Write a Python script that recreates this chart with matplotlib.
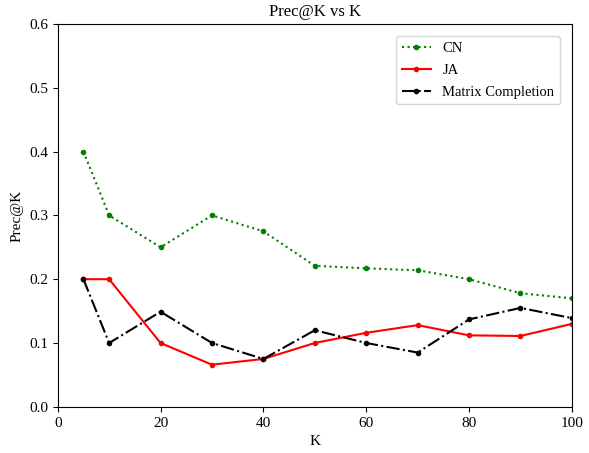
import matplotlib
matplotlib.use("Agg")
import matplotlib.pyplot as plt

plt.rcParams['font.family'] = ['Liberation Serif', 'DejaVu Serif']
plt.rcParams['font.size'] = 11

# K values and precision for each method
k = [5, 10, 20, 30, 40, 50, 60, 70, 80, 90, 100]
cn = [0.4, 0.3, 0.25, 0.3, 0.275, 0.221, 0.217, 0.214, 0.2, 0.178, 0.17]
ja = [0.2, 0.2, 0.1, 0.066, 0.075, 0.1, 0.116, 0.128, 0.112, 0.111, 0.13]
mc = [0.2, 0.1, 0.149, 0.1, 0.075, 0.12, 0.1, 0.085, 0.137, 0.155, 0.139]

fig = plt.figure(figsize=(5.89, 4.53), dpi=100)
ax = fig.add_axes([0.098, 0.102, 0.873, 0.845])

ax.plot(k, cn, color='green', linestyle=':', marker='o', markersize=3, label='CN')
ax.plot(k, ja, color='red', linestyle='-', marker='o', markersize=3, label='JA')
ax.plot(k, mc, color='black', linestyle='-.', marker='o', markersize=3, label='Matrix Completion')

ax.set_xlim([0, 100])
ax.set_ylim([0, 0.6])
ax.set_title('Prec@K vs K', fontsize=12)
ax.set_xlabel('K')
ax.set_ylabel('Prec@K')
ax.legend(loc='upper right', fontsize=10.5, borderaxespad=0.8, labelspacing=0.6)

fig.savefig('out.png', dpi=100)
